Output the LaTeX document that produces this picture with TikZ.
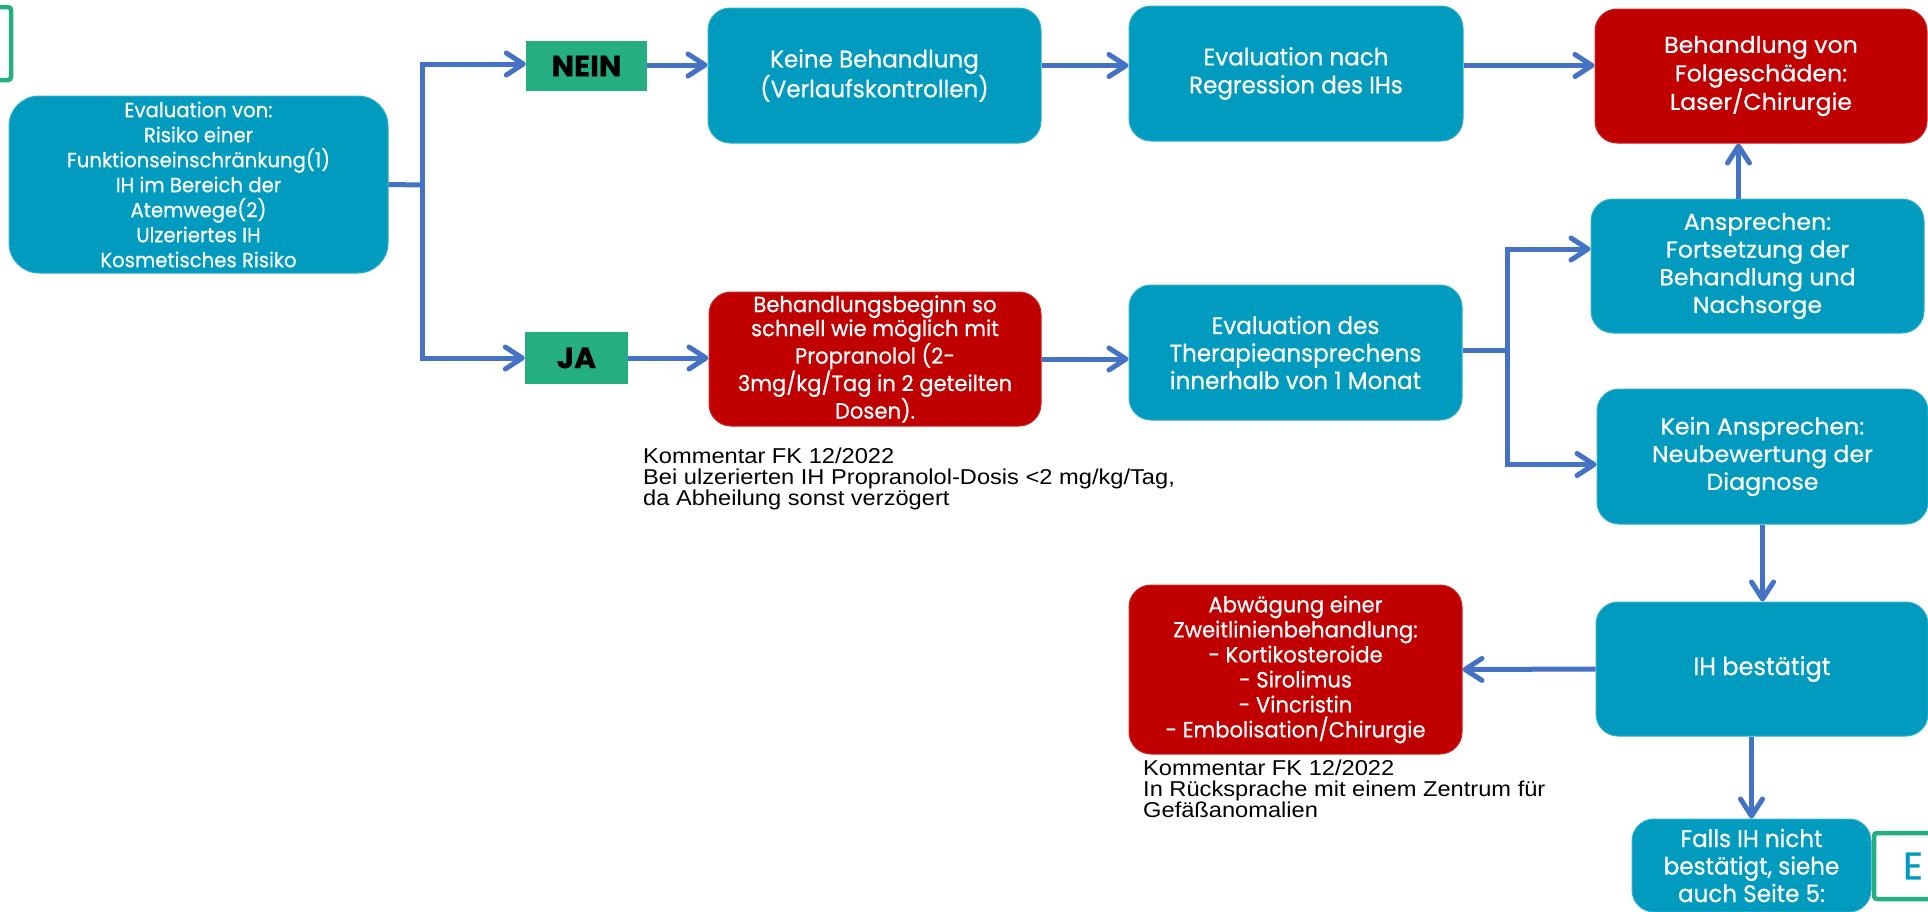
\documentclass[tikz,border=0pt]{standalone}
\usepackage{fontspec}
\setmainfont{Poppins}[FakeStretch=1.03, FakeBold=0.6]
\newfontfamily\narrowfont{Poppins}[FakeStretch=0.96, FakeBold=0.6]
\newfontfamily\notefont{Liberation Sans}[FakeStretch=1.1]
\usepackage{tikz}
\usetikzlibrary{positioning,arrows.meta}
\definecolor{boxteal}{RGB}{0,155,191}
\definecolor{boxred}{RGB}{192,0,0}
\definecolor{boxgreen}{RGB}{36,174,130}
\definecolor{arrowblue}{RGB}{68,114,196}

\begin{document}
\begin{tikzpicture}[x=1pt, y=-1pt,
  >={Straight Barb[length=17pt,width=22pt,round]},
  flow/.style={draw=arrowblue, line width=5pt},
  tealbox/.style={fill=boxteal, draw=boxteal!80!white, line width=1pt, rounded corners=22pt, text=white, align=center, inner sep=0pt},
  redbox/.style={fill=boxred, draw=boxred!85!white, line width=1pt, rounded corners=22pt, text=white, align=center, inner sep=0pt},
  answer/.style={fill=boxgreen, text=black, font=\fontsize{29}{32}\selectfont\bfseries, inner sep=0pt},
  pagebox/.style={draw=boxgreen, line width=4.5pt, rounded corners=3pt, inner sep=0pt},
  note/.style={anchor=north west, align=left, inner sep=0pt, font=\notefont\fontsize{21.5}{21}\selectfont}]

\useasboundingbox (0,0) rectangle (1928,911);

%previous page box
\node[pagebox, minimum width=80, minimum height=73] (prevpage) at (-29,43.5) {};

%Evaluation
\node[tealbox, rounded corners=30pt, minimum width=379, minimum height=177, font=\narrowfont\fontsize{20.5}{25}\selectfont] (evalvon) at (198.5,184.5) {Evaluation von:\\Risiko einer\\Funktionseinschränkung(1)\\IH im Bereich der\\Atemwege(2)\\Ulzeriertes IH\\Kosmetisches Risiko};

%NEIN and JA
\node[answer, minimum width=121, minimum height=50] (nein) at (586.5,66) {NEIN};
\node[answer, minimum width=103, minimum height=52] (ja) at (576.5,358) {JA};

%upper row
\node[tealbox, minimum width=333, minimum height=135, font=\narrowfont\fontsize{24}{28}\selectfont] (keine) at (874.5,75.5) {Keine Behandlung\\(Verlaufskontrollen)};
\node[tealbox, minimum width=334, minimum height=135, font=\narrowfont\fontsize{24}{28}\selectfont] (regression) at (1296,73.5) {Evaluation nach\\Regression des IHs};
\node[redbox, minimum width=332, minimum height=134, font=\fontsize{23}{28.5}\selectfont] (folge) at (1761,76) {Behandlung von\\Folgeschäden:\\Laser/Chirurgie};

%middle row
\node[redbox, minimum width=332, minimum height=134, font=\narrowfont\fontsize{22}{24}\selectfont] (beginn) at (875,359) {Behandlungsbeginn so\\schnell wie möglich mit\\Propranolol (2-\\3mg/kg/Tag in 2 geteilten\\Dosen).};
\node[tealbox, minimum width=333, minimum height=135, font=\narrowfont\fontsize{24}{27.5}\selectfont] (therapie) at (1295.5,352.5) {Evaluation des\\Therapieansprechens\\innerhalb von 1 Monat};
\node[tealbox, minimum width=333, minimum height=134, font=\fontsize{23}{27.7}\selectfont] (ansprechen) at (1757.5,266) {Ansprechen:\\Fortsetzung der\\Behandlung und\\Nachsorge};
\node[tealbox, minimum width=331, minimum height=135, font=\fontsize{23}{27.7}\selectfont] (keinans) at (1762.5,456.5) {Kein Ansprechen:\\Neubewertung der\\Diagnose};

%lower row
\node[redbox, minimum width=333, minimum height=169, font=\narrowfont\fontsize{22}{25}\selectfont] (abwaegung) at (1295.5,669.5) {Abwägung einer\\Zweitlinienbehandlung:\\- Kortikosteroide\\- Sirolimus\\- Vincristin\\- Embolisation/Chirurgie};
\node[tealbox, minimum width=332, minimum height=134, font=\narrowfont\fontsize{25}{28}\selectfont] (bestaetigt) at (1762,669) {IH bestätigt};
\node[tealbox, minimum width=239, minimum height=93, font=\narrowfont\fontsize{24}{27.5}\selectfont] (falls) at (1751.5,865.5) {Falls IH nicht\\bestätigt, siehe\\auch Seite 5:};
\node[pagebox, minimum width=78, minimum height=66, text=boxteal, font=\fontsize{38}{40}\selectfont] (nextpage) at (1913,866) {E};

%comments
\node[note] (note1) at (643,448) {Kommentar FK 12/2022\\Bei ulzerierten IH Propranolol-Dosis <2 mg/kg/Tag,\\da Abheilung sonst verzögert};
\node[note] (note2) at (1143,760) {Kommentar FK 12/2022\\In Rücksprache mit einem Zentrum für\\Gefäßanomalien};

%split after Evaluation
\coordinate (split1) at (422,185);
\draw[flow] (evalvon.east) -- (split1);
\draw[flow, ->] (split1) |- ([yshift=2pt]nein.west);
\draw[flow, ->] (split1) |- (ja.west);

%connection NEIN and upper row
\draw[flow, ->] ([yshift=1pt]nein.east) -- ([yshift=1pt]nein.east -| keine.west);
\draw[flow, ->] ([yshift=10pt]keine.east) -- ([yshift=10pt]keine.east -| regression.west);
\draw[flow, ->] ([yshift=8pt]regression.east) -- ([yshift=8pt]regression.east -| folge.west);

%connection JA and middle row
\draw[flow, ->] (ja.east) -- (ja.east -| beginn.west);
\draw[flow, ->] (beginn.east) -- (beginn.east -| therapie.west);

%split after Therapie
\coordinate (split2) at (1507,350);
\draw[flow] (therapie.east |- split2) -- (split2);
\draw[flow, ->] (split2) |- ([yshift=17pt]ansprechen.west);
\draw[flow, ->] (split2) |- ([yshift=-8pt]keinans.west);

%Ansprechen up to Folgeschaeden
\draw[flow, ->] ([xshift=-19pt]ansprechen.north) -- ([xshift=-19pt]ansprechen.north |- folge.south);

%Kein Ansprechen down to IH
\draw[flow, ->] (keinans.south) -- (keinans.south |- bestaetigt.north);
\draw[flow, ->] (bestaetigt.west) -- (abwaegung.east);
\draw[flow, ->] (bestaetigt.south -| falls.north) -- (falls.north);

\end{tikzpicture}
\end{document}
